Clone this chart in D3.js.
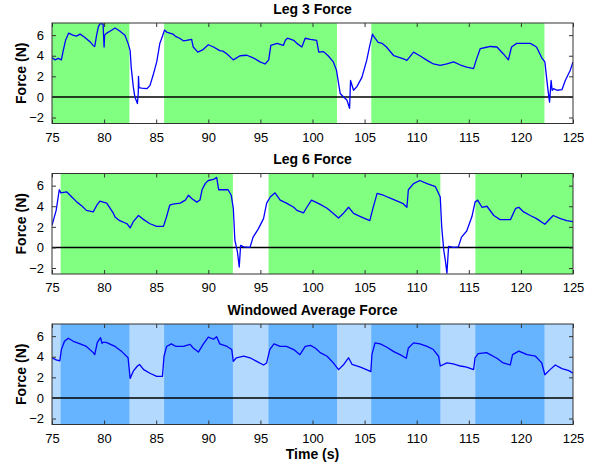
<!DOCTYPE html>
<html lang="en">
<head>
<meta charset="utf-8">
<script src="https://d3js.org/d3.v7.min.js"></script>
<style>
  body { margin: 0; background: #fff; }
  svg { display: block; font-family: "Liberation Sans", Arial, sans-serif; }
</style>
</head>
<body>
<svg class="chart"></svg>
<script>
  // ---- data ----
  const leg3Time = [75,75.3,75.6,75.9,76.1,76.3,76.6,77,77.35,77.7,78,78.3,78.7,78.95,79.1,79.3,79.45,79.6,79.9,80,80.05,80.25,80.6,81.05,81.5,82,82.3,82.5,82.6,82.8,82.95,83.2,83.28,83.3,83.35,83.6,84.1,84.4,84.7,85.05,85.35,85.6,85.8,86,86.3,86.6,86.9,87.25,87.6,87.9,88.4,88.55,89,89.5,90,90.5,91.1,91.4,91.77,92.4,93.05,93.7,94.3,94.97,95.45,95.8,96,96.6,97.2,97.4,97.6,98.2,98.5,98.98,99.3,99.8,100.4,100.6,101.06,101.5,102,102.3,102.66,102.98,103.3,103.56,103.65,103.94,104.26,104.74,105.2,105.5,105.76,105.86,106.3,106.7,107.1,107.8,108.3,108.74,109.06,109.7,110.3,111,111.6,112.26,112.9,113.54,114.2,114.8,115.46,115.7,116.1,116.6,117.06,117.7,118.3,118.8,119.1,119.6,120.26,120.9,121.5,122,122.3,122.56,122.75,122.9,123,123.14,123.46,123.94,124.26,124.74,125];
  const leg3Force = [3.8,3.6,3.75,3.6,4.6,5.5,6.2,6.0,5.9,6.1,5.9,5.65,5.3,5.0,4.9,6.1,6.8,7.1,7.1,4.85,6.0,6.2,6.4,6.7,6.4,6.0,5.2,4.5,2.9,1.0,0,-0.64,0.4,2.0,0.9,0.85,0.8,1.1,2.1,3.4,5.2,5.9,6.5,6.3,6.2,6.1,5.85,5.7,5.45,5.5,5.6,4.85,4.35,4.6,5.07,4.85,4.5,4.45,4.2,3.6,4.0,4.05,3.8,3.4,3.2,3.6,5.0,5.2,5.0,5.5,5.7,5.5,5.2,4.85,5.7,5.6,5.5,4.35,4.4,4.0,3.4,2.6,0.33,0,-0.3,-1.1,1.6,0.65,1.0,1.9,3.55,5.0,6.1,5.9,5.3,5.2,4.85,4.0,3.85,3.7,3.55,4.35,4.0,3.55,3.2,3.07,3.2,3.4,3.1,2.9,2.75,3.55,4.7,4.8,4.9,4.85,4.2,3.6,4.85,5.2,5.2,5.2,4.85,3.8,3.4,1.0,-0.5,1.6,0.65,0.8,0.65,0.7,1.6,2.6,3.4];

  const leg6Time = [75,75.4,75.7,75.85,76.4,76.9,77.4,77.9,78.3,78.96,79.3,79.6,80.25,80.9,81.05,81.5,82.2,82.5,82.8,83.3,83.8,84.4,85.05,85.7,86,86.3,86.6,87.3,87.8,88.1,88.4,88.9,89.2,89.4,89.7,90,90.5,90.8,91,91.4,91.9,92.2,92.4,92.55,92.8,92.97,93.1,93.4,94,94.3,94.8,95.3,95.6,95.95,96.4,96.9,97.5,98.2,98.5,99.14,99.46,99.9,100.7,101.4,102,102.5,103,103.46,103.94,104.6,105.5,105.8,106.2,106.8,107.8,108.7,109.06,109.2,109.7,110.3,111,111.8,112.26,112.4,112.6,112.74,112.9,113.06,113.54,114,114.3,114.8,115.3,115.6,115.85,116.26,116.74,117.4,118,119,119.5,119.8,120.26,120.9,121.5,122.3,123.1,123.8,124.4,125];
  const leg6Force = [2.15,3.6,5.6,5.3,5.4,4.9,4.4,4.0,3.6,3.45,4.1,4.5,4.3,3.3,2.95,2.6,2.3,1.9,2.5,3.1,2.7,2.3,2.05,2.05,3.0,4.1,4.2,4.3,4.6,5.07,4.75,4.4,4.6,5.6,6.2,6.5,6.6,6.8,5.6,5.6,5.6,5.07,3.8,0.7,-0.45,-1.9,0.2,0.05,0,1.0,1.8,2.8,4.3,4.9,5.3,4.6,4.3,3.9,3.6,3.35,3.9,4.6,4.2,3.8,3.3,2.85,3.35,3.9,3.3,3.0,2.6,3.8,5.25,5.07,4.65,4.25,3.9,5.6,6.2,6.5,6.2,5.9,4.9,2.0,-0.3,-1.2,-2.5,0.1,0,0.05,1.0,1.6,3.0,4.4,4.6,3.9,4.0,3.1,2.7,2.7,3.8,3.9,3.45,3.1,2.8,2.25,3.1,2.8,2.6,2.5];

  const avgTime = [75,75.4,75.75,75.9,76.2,76.56,77.05,77.7,78.3,78.96,79.1,79.35,79.66,79.8,79.9,80.2,81.05,81.7,82.3,82.5,82.8,83.2,83.4,83.8,84.4,85.05,85.6,85.75,86,86.45,86.9,87.6,88.25,88.55,89.05,89.5,90,90.5,90.8,91.1,91.8,92.25,92.4,92.7,93.4,94,94.65,95.3,95.6,95.9,96.3,96.9,97.5,98.2,98.8,99.3,99.8,100.26,100.74,101.4,102,102.5,103,103.46,103.8,104.6,105.4,105.6,105.7,106,106.5,107.1,107.8,108.4,109,109.2,109.7,110.3,111,111.6,112.1,112.26,112.9,113.5,114.2,114.8,115.46,115.6,115.9,116.7,117.7,118.3,118.98,119.2,119.8,120.6,121.4,122,122.3,122.8,123.3,123.94,124.6,125];
  const avgForce = [3.9,3.7,3.6,4.7,5.5,5.8,5.5,5.25,5.0,4.4,4.2,5.4,5.85,5.3,5.4,5.4,5.0,4.5,3.9,1.9,2.6,3.1,3.25,2.75,2.4,2.1,2.1,4.05,5.0,5.25,5.0,5.0,5.2,4.85,4.45,5.2,5.9,5.7,5.95,5.25,5.0,4.7,3.55,3.9,4.05,3.9,3.55,3.2,3.4,4.7,5.25,5.0,5.0,4.7,4.2,5.0,5.1,4.85,4.4,4.05,3.4,2.75,3.25,3.9,3.25,3.0,2.65,2.55,4.2,5.35,5.25,4.95,4.5,4.2,3.85,4.85,5.35,5.25,5.0,4.7,4.05,3.1,3.4,3.3,3.1,3.0,2.75,3.9,4.3,4.4,3.85,3.4,3.2,4.2,4.55,4.2,4.05,3.4,2.25,2.75,3.2,2.85,2.65,2.4];

  // stance periods (shaded)
  const leg3Stance = [[75, 82.43], [85.76, 102.35], [105.64, 122.26]];
  const leg6Stance = [[75.83, 92.36], [95.78, 112.27], [115.63, 125]];

  const xTicks = [75, 80, 85, 90, 95, 100, 105, 110, 115, 120, 125];
  const yTicks = [-2, 0, 2, 4, 6];

  // ---- layout ----
  const W = 597, H = 468;
  const left = 52, right = 573;
  const panelH = 100.5;
  const tops = [23, 173.5, 324];

  const svg = d3.select('.chart').attr('width', W).attr('height', H);

  const xScale = d3.scaleLinear().domain([75, 125]).range([left, right]);

  // overlap of both stance sets -> dark blue, everything else light blue
  const both = [];
  leg3Stance.forEach(a => leg6Stance.forEach(b => {
    const s = Math.max(a[0], b[0]), e = Math.min(a[1], b[1]);
    if (e > s) both.push([s, e]);
  }));

  function panel(i, time, force, title, shading) {
    const top = tops[i];
    const yScale = d3.scaleLinear().domain([-2.58, 7.18]).range([top + panelH, top]);
    const g = svg.append('g');

    g.append('rect')
      .attr('x', left).attr('y', top)
      .attr('width', right - left).attr('height', panelH)
      .attr('fill', shading.bg);

    g.selectAll('.shade')
      .data(shading.spans)
      .enter().append('rect')
      .attr('class', 'shade')
      .attr('x', d => xScale(d[0]))
      .attr('y', top)
      .attr('width', d => xScale(d[1]) - xScale(d[0]))
      .attr('height', panelH)
      .attr('fill', shading.color);

    // zero line
    g.append('line')
      .attr('x1', left).attr('x2', right)
      .attr('y1', yScale(0)).attr('y2', yScale(0))
      .attr('stroke', '#000').attr('stroke-width', 1.6);

    const clipId = 'clip' + i;
    g.append('clipPath').attr('id', clipId)
      .append('rect').attr('x', left).attr('y', top)
      .attr('width', right - left).attr('height', panelH);

    const line = d3.line()
      .x((d, j) => xScale(time[j]))
      .y(d => yScale(d));

    g.append('path')
      .datum(force)
      .attr('clip-path', `url(#${clipId})`)
      .attr('fill', 'none')
      .attr('stroke', '#0000ff')
      .attr('stroke-width', 1.3)
      .attr('stroke-linejoin', 'round')
      .attr('d', line);

    // axes (ticks point inward, box on)
    const tickLen = -4;
    g.append('g')
      .attr('transform', `translate(0,${top + panelH})`)
      .call(d3.axisBottom(xScale).tickValues(xTicks).tickSizeInner(tickLen).tickSizeOuter(0).tickPadding(9));
    g.append('g')
      .attr('transform', `translate(0,${top})`)
      .call(d3.axisTop(xScale).tickValues(xTicks).tickSizeInner(tickLen).tickSizeOuter(0).tickFormat(''));
    g.append('g')
      .attr('transform', `translate(${left},0)`)
      .call(d3.axisLeft(yScale).tickValues(yTicks).tickSizeInner(tickLen).tickSizeOuter(0).tickPadding(8));
    g.append('g')
      .attr('transform', `translate(${right},0)`)
      .call(d3.axisRight(yScale).tickValues(yTicks).tickSizeInner(tickLen).tickSizeOuter(0).tickFormat(''));

    g.selectAll('.domain').remove();
    g.selectAll('.tick line').attr('stroke', '#333');
    g.selectAll('.tick text')
      .attr('fill', '#000')
      .style('font-size', '13px')
      .style('font-family', '"Liberation Sans", Arial, sans-serif');

    g.append('rect')
      .attr('x', left).attr('y', top)
      .attr('width', right - left).attr('height', panelH)
      .attr('fill', 'none').attr('stroke', '#333').attr('stroke-width', 1);

    g.append('text')
      .attr('x', (left + right) / 2).attr('y', top - 9.5)
      .attr('text-anchor', 'middle')
      .style('font-size', '14px').style('font-weight', 'bold')
      .text(title);

    g.append('text')
      .attr('transform', `translate(26,${top + panelH / 2}) rotate(-90)`)
      .attr('text-anchor', 'middle')
      .style('font-size', '14px').style('font-weight', 'bold')
      .text('Force (N)');
  }

  panel(0, leg3Time, leg3Force, 'Leg 3 Force', { bg: '#ffffff', color: '#80ff80', spans: leg3Stance });
  panel(1, leg6Time, leg6Force, 'Leg 6 Force', { bg: '#ffffff', color: '#80ff80', spans: leg6Stance });
  panel(2, avgTime, avgForce, 'Windowed Average Force', { bg: '#b3d9ff', color: '#66b3ff', spans: both });

  svg.append('text')
    .attr('x', (left + right) / 2).attr('y', 459)
    .attr('text-anchor', 'middle')
    .style('font-size', '14px').style('font-weight', 'bold')
    .text('Time (s)');
</script>
</body>
</html>
